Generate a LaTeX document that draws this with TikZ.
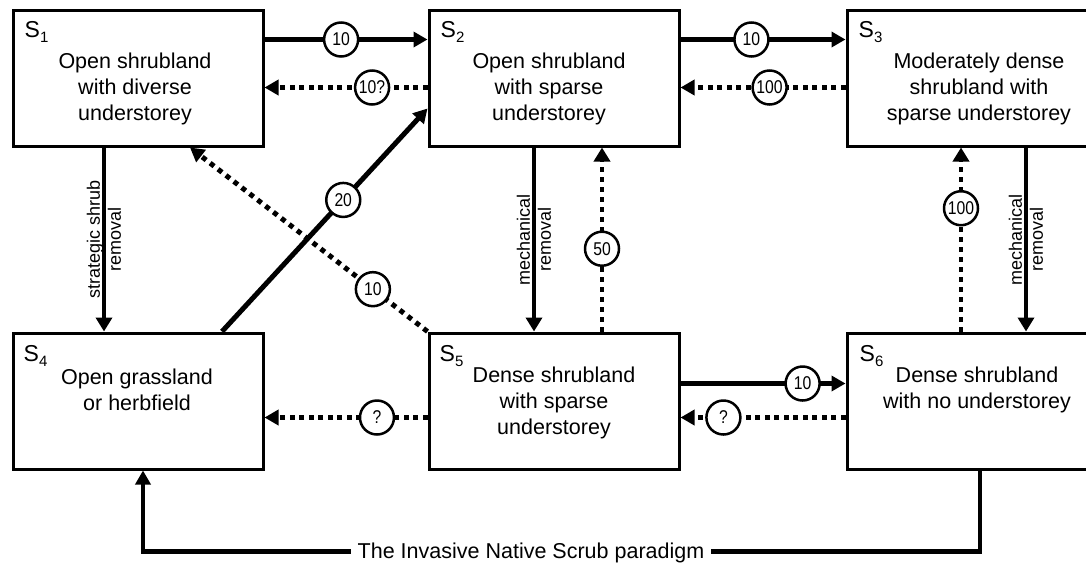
\documentclass[tikz,border=0pt]{standalone}
\usepackage{fontspec}
\setmainfont{Liberation Sans}
\newfontfamily\narrowfont[FakeStretch=0.85]{Liberation Sans}
\usetikzlibrary{arrows.meta,calc}
\newcommand\stsub[1]{\raisebox{-5pt}{\fontsize{15}{15}\selectfont #1}}
\begin{document}
\begin{tikzpicture}[x=1pt,y=-1pt,
  statebox/.style={draw,line width=3pt,minimum width=250pt,minimum height=136pt,inner sep=0pt},
  boxtext/.style={align=center,font=\fontsize{21.5}{26}\selectfont,inner sep=0pt},
  slabel/.style={anchor=north west,inner sep=0pt,font=\fontsize{23}{26}\selectfont},
  solidarr/.style={line width=5pt,-{Triangle[length=14pt,width=15pt]}},
  dotarr/.style={line width=5pt,dash pattern=on 5pt off 4.5pt,-{Triangle[length=14pt,width=15pt]}},
  vsolid/.style={line width=4pt,-{Triangle[length=14pt,width=16pt]}},
  vdot/.style={line width=4.5pt,dash pattern=on 4.5pt off 5.5pt,-{Triangle[length=14pt,width=16pt]}},
  lbl/.style={circle,draw,solid,line width=2.5pt,fill=white,minimum size=34pt,inner sep=0pt,font=\narrowfont\fontsize{18.5}{18.5}\selectfont},
  rotlbl/.style={rotate=90,align=center,inner sep=0pt,font=\fontsize{18}{21}\selectfont},
  loopline/.style={line width=4.5pt,-{Triangle[length=14pt,width=15pt]}},
]
\useasboundingbox (0,0) rectangle (1086,566);
\fill[white] (0,0) rectangle (1086,566);
\clip (0,0) rectangle (1086,566);

% state boxes
\node[statebox] (S1) at (138,78) {};
\node[statebox] (S2) at (554,78) {};
\node[statebox] (S3) at (972,78) {};
\node[statebox] (S4) at (138,401) {};
\node[statebox] (S5) at (554,401) {};
\node[statebox] (S6) at (972,401) {};

% state labels
\node[slabel] (s1) at ([shift={(13pt,-13pt)}]S1.north west) {S\stsub{1}};
\node[slabel] (s2) at ([shift={(13pt,-13pt)}]S2.north west) {S\stsub{2}};
\node[slabel] (s3) at ([shift={(13pt,-13pt)}]S3.north west) {S\stsub{3}};
\node[slabel] (s4) at ([shift={(12pt,-14pt)}]S4.north west) {S\stsub{4}};
\node[slabel] (s5) at ([shift={(12pt,-14pt)}]S5.north west) {S\stsub{5}};
\node[slabel] (s6) at ([shift={(14pt,-14pt)}]S6.north west) {S\stsub{6}};

% state texts
\node[boxtext] (t1) at (135,89) {Open shrubland\\with diverse\\understorey};
\node[boxtext] (t2) at (549,89) {Open shrubland\\with sparse\\understorey};
\node[boxtext] (t3) at (979,89) {Moderately dense\\shrubland with\\sparse understorey};
\node[boxtext] (t4) at (137,390) {Open grassland\\or herbfield};
\node[boxtext] (t5) at (554,403) {Dense shrubland\\with sparse\\understorey};
\node[boxtext] (t6) at (977,390) {Dense shrubland\\with no understorey};

% top row horizontal
\draw[solidarr] ([yshift=-31pt]S1.north east) -- node[lbl,pos=.47] (l12) {10} ([yshift=-31pt]S2.north west);
\draw[dotarr] ([yshift=-79pt]S2.north west) -- node[lbl,pos=.34] (l21) {10?} ([yshift=-79pt]S1.north east);
\draw[solidarr] ([yshift=-31pt]S2.north east) -- node[lbl,pos=.43] (l23) {10} ([yshift=-31pt]S3.north west);
\draw[dotarr] ([yshift=-79pt]S3.north west) -- node[lbl,pos=.46] (l32) {100} ([yshift=-79pt]S2.north east);

% bottom row horizontal
\draw[solidarr] ([yshift=-52pt]S5.north east) -- node[lbl,pos=.74] (l56) {10} ([yshift=-52pt]S6.north west);
\draw[dotarr] ([yshift=-86pt]S6.north west) -- node[lbl,pos=.74] (l65) {?} ([yshift=-86pt]S5.north east);
\draw[dotarr] ([yshift=-86pt]S5.north west) -- node[lbl,pos=.31] (l54) {?} ([yshift=-86pt]S4.north east);

% verticals
\draw[vsolid] ([xshift=-34pt]S1.south) -- node[rotlbl] (r14) {strategic shrub\\removal} ([xshift=-34pt]S4.north);
\draw[vsolid] ([xshift=-20pt]S2.south) -- node[rotlbl] (r25) {mechanical\\removal} ([xshift=-20pt]S5.north);
\draw[vdot] ([xshift=48pt]S5.north) -- node[lbl,pos=.45] (l52) {50} ([xshift=48pt]S2.south);
\draw[vsolid] ([xshift=54pt]S3.south) -- node[rotlbl] (r36) {mechanical\\removal} ([xshift=54pt]S6.north);
\draw[vdot] ([xshift=-11pt]S6.north) -- node[lbl,pos=.67] (l63) {100} ([xshift=-11pt]S3.south);

% diagonals
\draw[solidarr] ([xshift=84pt]S4.north) -- node[lbl,pos=.59] (l42) {20} ([yshift=-100pt]S2.north west);
\draw[line width=5pt,dash pattern=on 5pt off 5pt,-{Triangle[length=14pt,width=15pt]}] (S5.north west) -- node[lbl,pos=.23] (l51) {10} ([xshift=52pt]S1.south);

% paradigm loop
\draw[loopline] ([xshift=8pt]S6.south) -- ++(0,81) -| ([xshift=5pt]S4.south);
\node[fill=white,inner xsep=7pt,inner ysep=2pt,font=\fontsize{21.5}{26}\selectfont] (par) at (531,553) {The Invasive Native Scrub paradigm};
\end{tikzpicture}
\end{document}
